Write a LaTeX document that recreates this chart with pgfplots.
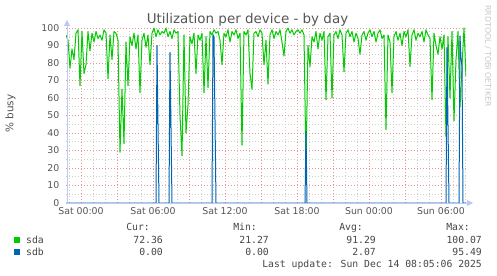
\documentclass[border=0pt]{standalone}
\usepackage{pgfplots}
\pgfplotsset{compat=1.18}
\usepackage{pgfplotstable}
\usepackage{fontspec}
\setmainfont{DejaVu Sans}
\newfontfamily\monof{DejaVu Sans Mono}
\definecolor{sdacol}{RGB}{0,204,0}
\definecolor{sdbcol}{RGB}{0,102,179}
\definecolor{txtgray}{RGB}{85,85,85}
\definecolor{legtxt}{RGB}{70,70,70}
\definecolor{majgrid}{RGB}{235,150,150}
\definecolor{mingrid}{RGB}{205,205,205}
\definecolor{axcol}{RGB}{190,198,245}
\definecolor{wmark}{RGB}{200,200,200}

% sda, % busy, one value every 10 minutes from Fri 22:45 to Sun 08:05
\pgfplotstableread{
v
96
93
77
88
82
97
99
67
98
74
79
98
87
97
92
98
94
96
93
99
97
71
96
82
98
97
93
29
65
34
92
67
95
90
97
88
96
63
93
97
89
96
79
97
100
95
99
96
98
97
100
95
98
94
99
97
98
50
27
96
40
56
95
91
97
74
96
93
97
63
95
66
98
96
99
97
98
93
79
97
95
99
92
98
96
99
94
97
33
98
96
99
74
65
97
98
95
99
97
79
93
68
96
99
94
98
96
99
92
84
98
100
97
99
96
98
99
97
99
96
21
90
78
95
92
98
88
97
93
98
59
95
97
60
96
98
94
99
96
75
97
99
95
98
92
97
94
85
96
98
93
97
99
95
98
92
97
99
94
96
42
96
92
63
95
98
93
97
90
98
95
99
78
96
99
93
97
95
98
92
99
96
94
59
97
90
85
95
88
96
38
95
60
98
47
82
98
55
78
100
72.36
}\sdatable

\begin{document}
\begin{tikzpicture}
\useasboundingbox (0bp,0bp) rectangle (497bp,276bp);
\fill[white] (0bp,0bp) rectangle (497bp,276bp);

\begin{axis}[
  at={(66bp,73bp)}, anchor=south west,
  scale only axis, width=400bp, height=175bp,
  xmin=-75, xmax=1925, ymin=0, ymax=100,
  axis line style={draw=none},
  major tick length=0pt, minor tick length=0pt,
  xtick={0,180,...,1800},
  xticklabels={Sat 00:00,{},Sat 06:00,{},Sat 12:00,{},Sat 18:00,{},Sun 00:00,{},Sun 06:00},
  minor xtick={-60,0,...,1920},
  ytick={10,20,...,100},
  extra y ticks={0}, extra y tick style={grid=none},
  minor ytick={5,15,...,95},
  grid=both,
  major grid style={majgrid, line width=0.8bp, dash pattern=on 1bp off 2bp},
  minor grid style={mingrid, line width=0.8bp, dash pattern=on 1bp off 2bp},
  tick label style={font=\fontsize{9.4}{11}\selectfont, text=txtgray},
  xticklabel style={anchor=north, inner sep=0pt, yshift=-4.5bp},
  yticklabel style={anchor=east, inner sep=0pt, xshift=-6.5bp},
  /pgf/number format/assume math mode=true,
  scaled y ticks=false,
]
\addplot[sdacol, line width=1bp, no marks, line join=round] table[x expr={\coordindex*10-75}, y=v] {\sdatable};
\addplot[sdbcol, line width=1bp, no marks, line join=round] coordinates {
(-75,0) (375,0) (380,90) (390,0) (440,0) (445,86) (455,0)
(655,0) (660,96) (665,95) (675,0) (1120,0) (1125,41) (1130,0)
(1825,0) (1830,89) (1840,0) (1890,0) (1895,95.49) (1900,83) (1905,78) (1910,0) (1925,0)};
\end{axis}

% axis lines and arrows
\draw[axcol, line width=1bp] (67bp,73bp) -- (67bp,250bp);
\fill[axcol] (64bp,250bp) -- (70bp,250bp) -- (67bp,256bp) -- cycle;
\draw[axcol, line width=0.6bp] (66bp,73bp) -- (467bp,73bp);
\fill[axcol] (467bp,70bp) -- (467bp,76bp) -- (473bp,73bp) -- cycle;

% titles
\node[anchor=base, inner sep=0pt, font=\fontsize{13.5}{16}\selectfont, text=txtgray] at (247.5bp,252bp) {Utilization per device - by day};
\node[anchor=base, inner sep=0pt, rotate=90, font=\fontsize{10.5}{12}\selectfont, text=txtgray] at (13.3bp,162.5bp) {\% busy};
\node[inner sep=0pt, rotate=-90, font=\fontsize{7.9}{9}\selectfont, text=wmark] at (488bp,220bp) {RRDTOOL / TOBI OETIKER};

% legend
\fill[sdacol] (14bp,33bp) rectangle (20bp,39bp);
\fill[sdbcol] (14bp,21bp) rectangle (20bp,27bp);
\begin{scope}[every node/.style={inner sep=0pt, font=\monof\fontsize{9.8}{11}\selectfont, text=legtxt}]
\node[anchor=base west] at (26bp,33bp) {sda};
\node[anchor=base west] at (26bp,21bp) {sdb};
\node[anchor=base east] at (150bp,45bp) {Cur:};
\node[anchor=base east] at (257bp,45bp) {Min:};
\node[anchor=base east] at (363bp,45bp) {Avg:};
\node[anchor=base east] at (470bp,45bp) {Max:};
\node[anchor=base east] at (163bp,33bp) {72.36};
\node[anchor=base east] at (269bp,33bp) {21.27};
\node[anchor=base east] at (376bp,33bp) {91.29};
\node[anchor=base east] at (482bp,33bp) {100.07};
\node[anchor=base east] at (163bp,21bp) {0.00};
\node[anchor=base east] at (269bp,21bp) {0.00};
\node[anchor=base east] at (376bp,21bp) {2.07};
\node[anchor=base east] at (482bp,21bp) {95.49};
\node[anchor=base east] at (482bp,9bp) {Last update: Sun Dec 14 08:05:06 2025};
\end{scope}
\end{tikzpicture}
\end{document}
